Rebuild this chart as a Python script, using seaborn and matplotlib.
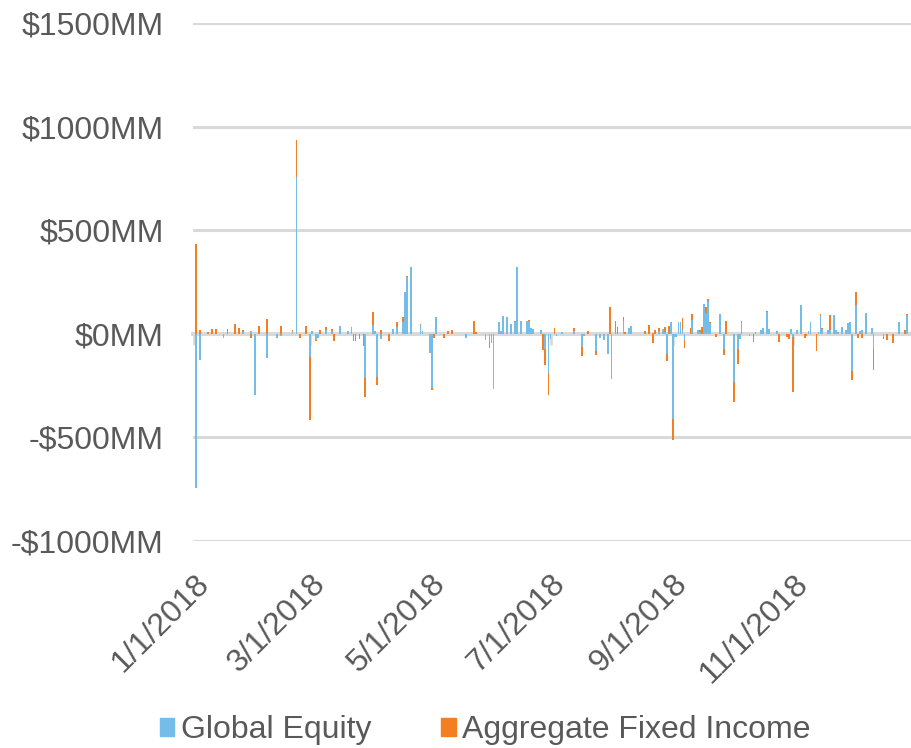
import matplotlib
matplotlib.use('Agg')
import matplotlib.pyplot as plt
import numpy as np
import pandas as pd
import seaborn as sns
from matplotlib.patches import Patch

# dias contados a partir de 1/1/2018 (so os dias com fluxo)
dias = [
    1, 3, 7, 9, 11, 15, 17, 21, 23, 25, 29, 31, 33, 37, 42, 44, 50, 52, 54, 57,
    59, 60, 62, 63, 64, 67, 70, 71, 74, 78, 80, 81, 82, 84, 86, 87, 91, 92, 93, 95,
    99, 101, 103, 106, 107, 108, 110, 115, 116, 120, 121, 122, 123, 127, 129, 131, 138, 142, 143, 148,
    150, 151, 152, 155, 156, 157, 159, 161, 163, 164, 166, 169, 170, 171, 172, 176, 177, 178, 180, 181,
    183, 184, 187, 193, 197, 198, 200, 204, 206, 208, 210, 211, 212, 214, 215, 218, 219, 221, 222, 229,
    231, 233, 234, 236, 238, 239, 240, 241, 242, 243, 244, 245, 246, 247, 248, 249, 252, 253, 256, 257,
    258, 259, 260, 261, 262, 265, 267, 269, 270, 274, 276, 277, 278, 282, 284, 285, 288, 289, 291, 292,
    296, 297, 301, 302, 303, 304, 306, 308, 310, 311, 312, 313, 316, 317, 318, 319, 322, 323, 325, 326,
    327, 329, 331, 332, 333, 334, 336, 337, 338, 339, 341, 344, 345, 350, 352, 355, 358, 361, 362,
]
global_equity = [
    -745, -125, 0, 0, 0, -20, 0, 0, 0, 10, 15, -295, 0, -115, -20, -10, 15, 755, 0, 0,
    -110, 15, -32, -20, 0, 20, 15, 0, 38, 15, 32, 0, 0, 0, 0, -213, 43, 15, -210, -25,
    0, 25, 32, 55, 204, 276, 324, 43, 15, -93, -260, 0, 83, 0, 0, 0, -20, 0, 0, -30,
    -38, -45, -266, 56, 15, 87, 80, 45, 55, 324, 62, 60, 62, 30, 25, 20, 0, -74, -189, -25,
    0, -10, 10, 15, -66, -10, 0, -85, -20, -32, -96, 0, -218, 10, 0, 64, 0, 30, 40, 0,
    0, 5, 0, 15, 25, 10, -96, 0, 59, -413, -15, -15, 55, 55, 20, -29, 0, 67, 20, 10,
    0, 143, 99, 159, 53, 0, 94, -74, 0, -234, -72, -25, 59, -10, 0, 10, 20, 30, 103, 25,
    15, 0, 0, 0, 25, -15, 20, 138, 0, 0, 15, 59, 0, 10, 91, 25, 20, 20, 90, 20,
    10, 35, 20, 50, 55, -181, 138, 0, 15, 20, 98, 30, -72, -15, 0, 0, 55, 0, 90,
]
fixed_income = [
    435, 20, 10, 25, 25, 0, 25, 45, 30, 8, -20, 0, 40, 72, 0, 40, 5, 180, -20, 40,
    -307, 0, -5, 0, 20, 12, 10, -34, 0, 0, 0, -34, -34, -25, -61, -93, 64, 0, -35, 20,
    -34, 0, 27, 28, 0, 5, 0, 5, 0, 0, -10, -20, 0, -21, 15, 20, 0, 64, 10, 0,
    -32, 0, 0, 0, 0, 0, 0, 0, 9, 0, 0, 0, 5, 0, 0, 0, -77, -75, -104, 0,
    27, 0, 0, 15, -43, 0, 15, -19, 0, 0, 0, 131, 0, 50, 35, 19, 10, 0, 0, 15,
    43, -45, 20, 15, 0, 25, -37, 38, 0, -100, 0, 0, 0, 0, 56, -41, 27, 27, 0, 10,
    32, 0, 32, 7, 5, -15, 0, -27, 62, -96, -72, 0, 5, 0, -38, 0, 0, 0, 5, 0,
    0, -40, -15, -25, 0, -265, 0, 0, -20, -10, 0, 0, -82, 0, 5, 5, 0, 70, 0, 0,
    0, 0, 0, 0, 0, -43, 65, -20, 0, -20, 0, 0, -104, -10, -32, -45, 3, 20, 5,
]
ticks_dias = [0, 59, 120, 181, 243, 304]
ticks_labels = ['1/1/2018', '3/1/2018', '5/1/2018', '7/1/2018', '9/1/2018', '11/1/2018']
y_ticks = [-1000, -500, 0, 500, 1000, 1500]

AZUL = '#74BDE8'
LARANJA = '#F47E20'
CINZA = '#D9D9D9'
TEXTO = '#595959'
FONTE = 23


def montar_dados():
    df = pd.DataFrame({'dia': dias, 'equity': global_equity, 'fi': fixed_income})
    # empilhado: quando os sinais coincidem o laranja fica por cima do azul
    mesmo_sinal = np.sign(df['equity']) == np.sign(df['fi'])
    df['topo_fi'] = np.where(mesmo_sinal, df['equity'] + df['fi'], df['fi'])
    return df


def formatar_y(v):
    return f'-${abs(v)}MM' if v < 0 else f'${v}MM'


def desenhar_barras(df, coluna, cor, ax):
    parte = df[df[coluna] != 0]
    sns.barplot(data=parte, x='dia', y=coluna, color=cor, saturation=1,
                native_scale=True, width=0.9, errorbar=None,
                linewidth=0, edgecolor='none', ax=ax)


def gerar_plotagem(df):
    sns.set_theme(style='white')
    plt.rcParams['font.family'] = ['Liberation Sans', 'DejaVu Sans']

    fig = plt.figure(figsize=(9.12, 7.48), dpi=100)
    ax = fig.add_axes([193 / 912, 207 / 748, 719 / 912, 518 / 748])

    desenhar_barras(df, 'topo_fi', LARANJA, ax)
    desenhar_barras(df, 'equity', AZUL, ax)

    ax.set_xlim(-0.5, 364.5)
    ax.set_ylim(-1000, 1500)
    ax.set_xlabel('')
    ax.set_ylabel('')

    ax.set_yticks(y_ticks)
    ax.set_yticklabels([formatar_y(v) for v in y_ticks])
    ax.grid(axis='y', color=CINZA, linewidth=2.2)
    ax.set_axisbelow(True)
    ax.tick_params(axis='y', length=0, pad=21, labelsize=FONTE, labelcolor=TEXTO)

    ax.set_xticks(ticks_dias)
    ax.set_xticklabels(ticks_labels, rotation=45, ha='right', rotation_mode='anchor')
    ax.tick_params(axis='x', length=0, pad=20, labelsize=FONTE, labelcolor=TEXTO)

    for lado in ['left', 'right', 'top', 'bottom']:
        ax.spines[lado].set_visible(False)

    # linha do eixo no zero com as marcas de tick
    zero = ax.secondary_xaxis(1000 / 2500)
    zero.set_xticks(ticks_dias)
    zero.set_xticklabels([])
    zero.tick_params(axis='x', length=8, width=2, color=CINZA, direction='out')
    zero.spines['bottom'].set_color(CINZA)
    zero.spines['bottom'].set_linewidth(2.8)
    zero.spines['top'].set_visible(False)

    handles = [Patch(color=AZUL, label='Global Equity'),
               Patch(color=LARANJA, label='Aggregate Fixed Income')]
    fig.legend(handles=handles, loc='lower center', bbox_to_anchor=(0.532, -0.035),
               ncol=2, frameon=False, fontsize=FONTE, labelcolor=TEXTO,
               handlelength=0.45, handleheight=0.45, handletextpad=0.2,
               columnspacing=2.2)
    return fig


if __name__ == '__main__':
    dados = montar_dados()
    fig = gerar_plotagem(dados)
    fig.savefig('out.png', dpi=100)
